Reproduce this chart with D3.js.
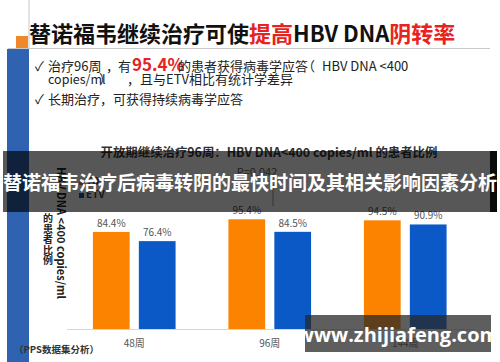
<!DOCTYPE html>
<html>
<head>
<meta charset="utf-8">
<script src="https://cdn.jsdelivr.net/npm/d3@7"></script>
<style>
  html, body { margin: 0; padding: 0; background: #fff; }
  svg { display: block; font-family: "Noto Sans CJK SC", "Noto Sans", sans-serif; }
</style>
</head>
<body>
<div id="root"></div>
<script>
const weeks = ["48周", "96周", "144周"];
const series = ["TDF", "ETV"];
const tdfValues = [84.4, 95.4, 94.5];
const etvValues = [76.4, 84.5, 90.9];
const colors = { TDF: "#fb8300", ETV: "#0a59c6" };

const width = 500;
const height = 362;

const svg = d3.select("#root").append("svg")
  .attr("width", width)
  .attr("height", height);

// slide decoration
svg.append("line")
  .attr("x1", 29).attr("x2", 29).attr("y1", 0).attr("y2", 48)
  .attr("stroke", "#c8c8c8").attr("stroke-width", 1);
svg.append("line")
  .attr("x1", 8).attr("x2", 490).attr("y1", 48.5).attr("y2", 48.5)
  .attr("stroke", "#c9c9c9").attr("stroke-width", 1);
svg.append("rect")
  .attr("x", 16).attr("y", 36).attr("width", 12).attr("height", 12)
  .attr("fill", "#f0882a");
svg.append("rect")
  .attr("x", 7).attr("y", 49).attr("width", 22).attr("height", height - 49)
  .attr("fill", "#2f62b0");

// title
const title = svg.append("text")
  .attr("x", 29).attr("y", 42)
  .attr("font-size", 22).attr("font-weight", "bold").attr("fill", "#111");
title.append("tspan").text("替诺福韦继续治疗可使");
title.append("tspan").attr("fill", "#e8231f").text("提高");
title.append("tspan").text("HBV DNA");
title.append("tspan").attr("fill", "#e8231f").text("阴转率");

// bullets
const bullet = (yy, parts) => {
  const t = svg.append("text").attr("y", yy)
    .attr("font-size", 13).attr("fill", "#222");
  parts.forEach(p => {
    const s = t.append("tspan").attr("x", p.x).text(p.text);
    if (p.size) s.attr("font-size", p.size);
    if (p.red) s.attr("fill", "#e8231f").attr("font-weight", "bold").attr("font-size", 17);
  });
};
bullet(71, [
  { x: 35, text: "✓" },
  { x: 48, text: "治疗96周" },
  { x: 106, text: "，" },
  { x: 118, text: "有" },
  { x: 132, text: "95.4%", red: true },
  { x: 178, text: "的患者获得病毒学应答" },
  { x: 302, text: "（" },
  { x: 322, text: "HBV DNA <400" }
]);
bullet(84, [
  { x: 48, text: "copies/ml", size: 12.5 },
  { x: 99, text: "）" },
  { x: 127, text: "，" },
  { x: 140, text: "且与ETV相比有统计学差异" }
]);
bullet(104, [
  { x: 35, text: "✓" },
  { x: 48, text: "长期治疗，可获得持续病毒学应答" }
]);

// chart
const x = d3.scaleBand()
  .domain(weeks)
  .range([66.5, 473])
  .paddingInner(0.39)
  .paddingOuter(0.195);
const x1 = d3.scaleBand()
  .domain(series)
  .range([0, x.bandwidth()])
  .paddingInner(0.2);
const y = d3.scaleLinear().domain([0, 100]).range([329, 214]);

svg.append("text")
  .attr("x", 269).attr("y", 157)
  .attr("text-anchor", "middle")
  .attr("font-size", 12.4).attr("font-weight", "bold").attr("fill", "#333")
  .text("开放期继续治疗96周：HBV DNA<400 copies/ml 的患者比例");

const rows = weeks.map((w, i) => ({ week: w, TDF: tdfValues[i], ETV: etvValues[i] }));

const groups = svg.append("g").selectAll("g")
  .data(rows)
  .join("g")
  .attr("transform", d => `translate(${x(d.week)},0)`);

groups.selectAll("rect")
  .data(d => series.map(s => ({ key: s, value: d[s] })))
  .join("rect")
  .attr("x", d => x1(d.key))
  .attr("y", d => y(d.value))
  .attr("width", x1.bandwidth())
  .attr("height", d => y(0) - y(d.value))
  .attr("fill", d => colors[d.key]);

groups.selectAll("text")
  .data(d => series.map(s => ({ key: s, value: d[s] })))
  .join("text")
  .attr("x", d => x1(d.key) + x1.bandwidth() / 2)
  .attr("y", d => y(d.value) - 5)
  .attr("text-anchor", "middle")
  .attr("font-size", 10).attr("fill", "#555")
  .text(d => d.value.toFixed(1) + "%");

// baseline + ticks
const xAxis = svg.append("g")
  .attr("transform", `translate(0,${y(0)})`)
  .call(d3.axisBottom(x).tickSize(0).tickPadding(11));
xAxis.select(".domain").attr("stroke", "#d6d6d6");
xAxis.selectAll("text")
  .attr("font-size", 10).attr("fill", "#555")
  .attr("font-family", "'Noto Sans CJK SC', sans-serif");

// y axis label
svg.append("text")
  .attr("transform", "translate(62,233) rotate(90)")
  .attr("text-anchor", "middle").attr("dominant-baseline", "central")
  .attr("font-size", 11).attr("font-weight", "bold").attr("fill", "#222")
  .text("HBV DNA <400 copies/ml");
svg.append("g").selectAll("text")
  .data("的患者比例".split(""))
  .join("text")
  .attr("x", 48)
  .attr("y", (d, i) => 222 + i * 10.6)
  .attr("text-anchor", "middle")
  .attr("font-size", 10).attr("font-weight", "bold").attr("fill", "#222")
  .text(d => d);

// legend
const legend = svg.append("g").selectAll("g")
  .data(series)
  .join("g")
  .attr("transform", (d, i) => `translate(79,${184 + i * 13})`);
legend.append("rect")
  .attr("y", -4).attr("width", 5).attr("height", 5)
  .attr("fill", d => colors[d]);
legend.append("text")
  .attr("x", 7).attr("y", 1)
  .attr("font-size", 10).attr("font-weight", "bold").attr("fill", "#444")
  .text(d => d);

// p value
svg.append("text")
  .attr("x", 257).attr("y", 176)
  .attr("text-anchor", "middle")
  .attr("font-size", 11).attr("fill", "#666")
  .text("P=0.042");
svg.append("line")
  .attr("x1", 273).attr("x2", 273).attr("y1", 184).attr("y2", 206)
  .attr("stroke", "#999");

svg.append("text")
  .attr("x", 14).attr("y", 353)
  .attr("font-size", 9.5).attr("font-weight", "bold").attr("fill", "#333")
  .text("（PPS数据集分析）");

// overlay banner
svg.append("rect")
  .attr("x", 3).attr("y", 151).attr("width", 490).attr("height", 61)
  .attr("fill", "rgba(0,0,0,0.66)");
svg.append("rect")
  .attr("x", 490).attr("y", 151).attr("width", 7).attr("height", 61)
  .attr("fill", "#0a0a0a");
svg.append("text")
  .attr("x", 250).attr("y", 190)
  .attr("text-anchor", "middle")
  .attr("font-size", 19).attr("font-weight", "bold").attr("fill", "#fff")
  .text("替诺福韦治疗后病毒转阴的最快时间及其相关影响因素分析");

// watermark
svg.append("rect")
  .attr("x", 305).attr("y", 315).attr("width", 186).attr("height", 37)
  .attr("fill", "rgba(40,40,40,0.75)");
svg.append("text")
  .attr("x", 398).attr("y", 342)
  .attr("text-anchor", "middle")
  .attr("font-size", 20).attr("font-weight", "bold").attr("fill", "#fff")
  .attr("font-family", "'Open Sans', 'DejaVu Sans', sans-serif")
  .text("www.zhijiafeng.com");
</script>
</body>
</html>
